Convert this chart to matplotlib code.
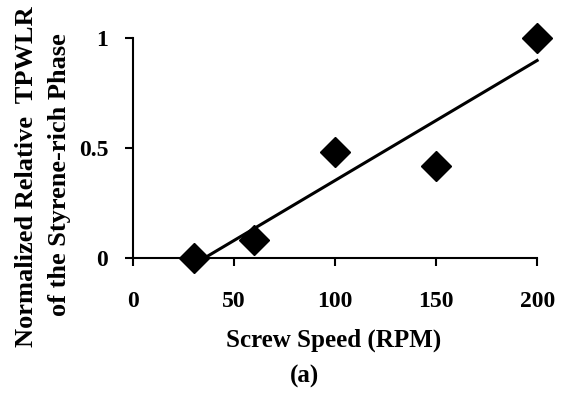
import numpy as np
import matplotlib.pyplot as plt

# dati
velocita = [30, 60, 100, 150, 200]
tpwlr = [0.0, 0.08, 0.48, 0.42, 1.0]
xticks = [0, 50, 100, 150, 200]
yticks = [0, 0.5, 1]
ytick_labels = ['0', '0.5', '1']

plt.rcParams['font.family'] = 'Liberation Serif'
plt.rcParams['font.weight'] = 'bold'

fig = plt.figure(figsize=(5.69, 4.01), dpi=100)
ax = fig.add_axes([0.234, 0.357, 0.71, 0.548])

# retta di tendenza lineare
m, q = np.polyfit(velocita, tpwlr, 1)
xl = np.array([velocita[0], velocita[-1]])
ax.plot(xl, m * xl + q, color='black', lw=2.2, clip_on=False)

ax.plot(velocita, tpwlr, 'D', color='black', ms=15, clip_on=False)

ax.set_xlim(0, 200)
ax.set_ylim(0, 1)
ax.set_xticks(xticks)
ax.set_yticks(yticks)
ax.set_yticklabels(ytick_labels)
ax.spines['top'].set_visible(False)
ax.spines['right'].set_visible(False)
ax.spines['left'].set_linewidth(1.5)
ax.spines['bottom'].set_linewidth(1.5)
ax.tick_params(axis='both', direction='out', length=6, width=1.5, labelsize=17)
ax.tick_params(axis='x', pad=18)
ax.tick_params(axis='y', pad=12)

fig.text(0.587, 0.152, 'Screw Speed (RPM)', ha='center', va='center', fontsize=18, fontweight='bold')
fig.text(0.536, 0.06, '(a)', ha='center', va='center', fontsize=18, fontweight='bold')

fig.text(0.047, 0.56, 'Normalized Relative  TPWLR', rotation=90, ha='center', va='center', fontsize=19, fontweight='bold')
fig.text(0.105, 0.565, 'of the Styrene-rich Phase', rotation=90, ha='center', va='center', fontsize=19, fontweight='bold')

fig.savefig('out.png', dpi=100)
